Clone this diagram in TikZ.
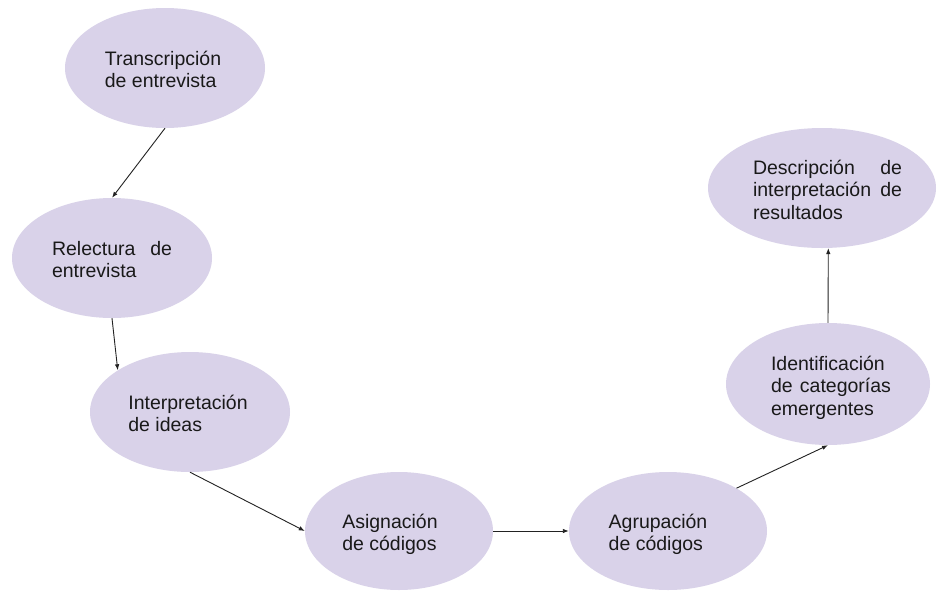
\documentclass[tikz,border=0pt]{standalone}
\usepackage{fontspec}
\setmainfont{Liberation Sans}
\usetikzlibrary{shapes.geometric,arrows.meta}
\definecolor{lav}{HTML}{D9D2E9}
\definecolor{ink}{HTML}{222222}
\newcommand{\lbl}[3]{\hspace*{#1}\raisebox{0pt}[\dimexpr\height+8pt\relax][\depth]{\begin{tabular}{@{}l@{}}#3\end{tabular}}\hspace*{#2}}
\begin{document}
\begin{tikzpicture}[x=1pt,y=-1pt,
  stage/.style={ellipse,fill=lav,draw=none,inner sep=0pt,
    font=\fontsize{19.5}{22.5}\selectfont,text=black!90},
  flow/.style={draw=ink,line width=0.9pt,-{Latex[length=6pt,width=4.5pt]}}]
\fill[white] (0,0) rectangle (937,590);
\useasboundingbox (0,0) rectangle (937,590);
\node[stage,minimum width=200pt,minimum height=120pt] (e1) at (165,68)
  {\lbl{0pt}{4pt}{Transcripción\\de entrevista}};
\node[stage,minimum width=200pt,minimum height=120pt] (e2) at (112,258)
  {\lbl{0pt}{0pt}{\hbox to 120pt{Relectura\hfill de}\\entrevista}};
\node[stage,minimum width=200pt,minimum height=120pt] (e3) at (190,412)
  {\lbl{0pt}{4pt}{Interpretación\\de ideas}};
\node[stage,minimum width=188pt,minimum height=118pt] (e4) at (399,531)
  {\lbl{0pt}{18pt}{Asignación\\de códigos}};
\node[stage,minimum width=198pt,minimum height=118pt] (e5) at (668,531)
  {\lbl{0pt}{20pt}{Agrupación\\de códigos}};
\node[stage,minimum width=204pt,minimum height=122pt] (e6) at (828,384)
  {\lbl{6pt}{0pt}{Identificación\\\hbox to 120pt{de\hfill categorías}\\emergentes}};
\node[stage,minimum width=228pt,minimum height=120pt] (e7) at (822,188)
  {\lbl{11pt}{0pt}{\hbox to 149pt{Descripción\hfill de}\\\hbox to 149pt{interpretación\hfill de}\\resultados}};
\draw[flow] (e1.south) -- (e2.north);
\draw[flow] (e2.south) -- (e3.150);
\draw[flow] (e3.south) -- (e4.west);
\draw[flow] (e4.east) -- (e5.west);
\draw[flow] (e5.32) -- (e6.south);
\draw[flow] (e6.north) -- (e7.-84);
\end{tikzpicture}
\end{document}
